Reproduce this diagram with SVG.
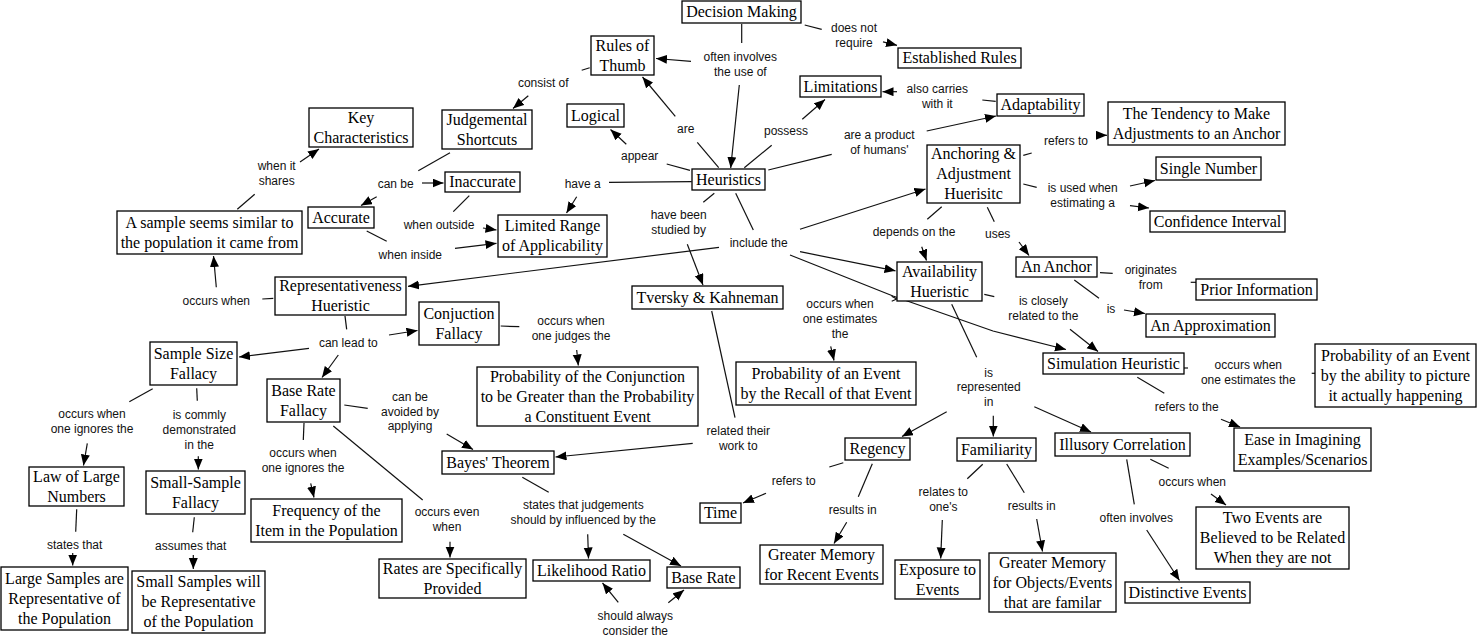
<svg xmlns="http://www.w3.org/2000/svg" width="1478" height="644" viewBox="0 0 1478 644">
<style>
.n rect{fill:#fff;stroke:#000;stroke-width:1.3}
.n text{font-family:"Liberation Serif","Times New Roman",serif;font-size:16px;fill:#000;text-anchor:middle}
.lb{font-family:"Liberation Sans",Arial,sans-serif;font-size:12px;fill:#111;text-anchor:middle}
.cn line,.cn polyline{stroke:#111;stroke-width:1.2;fill:none}
.cn .a{marker-end:url(#ah)}
</style>
<defs>
<marker id="ah" markerUnits="userSpaceOnUse" markerWidth="12" markerHeight="10" refX="11" refY="4.5" orient="auto"><path d="M0,0 L11,4.5 L0,9 z" fill="#000"/></marker>
</defs>
<rect width="1478" height="644" fill="#fff"/>
<g id="connectors" class="cn">
<line x1="741.7" y1="24" x2="741.7" y2="43"/>
<line x1="804.7" y1="25" x2="821.7" y2="29.3"/>
<line x1="581.7" y1="70.3" x2="589.7" y2="67.7"/>
<line x1="718.7" y1="167.7" x2="697.3" y2="142.3"/>
<line x1="744.3" y1="167.7" x2="771.7" y2="145.3"/>
<line x1="982.3" y1="100" x2="995.7" y2="101.3"/>
<line x1="768.3" y1="170" x2="831.7" y2="154.3"/>
<line x1="690" y1="170.3" x2="666.7" y2="164"/>
<line x1="691.7" y1="181.7" x2="609" y2="182.3"/>
<line x1="714.3" y1="193.3" x2="703.3" y2="202.3"/>
<line x1="735.7" y1="193.3" x2="753.3" y2="230"/>
<line x1="1023.3" y1="155.3" x2="1031.7" y2="153"/>
<line x1="1023.3" y1="184" x2="1036.7" y2="187.3"/>
<line x1="987.3" y1="207.3" x2="994.3" y2="221.7"/>
<line x1="941.7" y1="206.7" x2="927.3" y2="219.3"/>
<line x1="1100" y1="272.7" x2="1112.7" y2="273.3"/>
<line x1="1190.7" y1="282.3" x2="1196" y2="282.3"/>
<line x1="1074.3" y1="280" x2="1099" y2="298.3"/>
<line x1="984.3" y1="294.3" x2="994.3" y2="296.7"/>
<line x1="951.7" y1="304.3" x2="976.7" y2="357.3"/>
<line x1="1184" y1="368" x2="1188" y2="368"/>
<line x1="1311.7" y1="373.3" x2="1315" y2="373.3"/>
<line x1="1137.3" y1="377.3" x2="1164.3" y2="393.3"/>
<line x1="1150.3" y1="459.3" x2="1168.7" y2="468.3"/>
<line x1="1126.7" y1="459.3" x2="1134.3" y2="504.3"/>
<line x1="1006.7" y1="464" x2="1024.3" y2="492.7"/>
<line x1="982.7" y1="464.3" x2="967.3" y2="478.7"/>
<line x1="843.3" y1="462.7" x2="829.3" y2="467"/>
<line x1="872.3" y1="463.7" x2="858.3" y2="496.7"/>
<line x1="711.7" y1="311" x2="735" y2="417.7"/>
<line x1="262.3" y1="299" x2="273.3" y2="298.3"/>
<line x1="237.3" y1="209.3" x2="254.7" y2="194.3"/>
<line x1="450" y1="152.7" x2="418.3" y2="170.7"/>
<line x1="469.3" y1="195.7" x2="453.3" y2="211.7"/>
<line x1="366.7" y1="231" x2="386.7" y2="241.3"/>
<line x1="345" y1="316" x2="346.7" y2="329.3"/>
<line x1="500.7" y1="326" x2="519.3" y2="326.7"/>
<line x1="344.3" y1="405" x2="367.7" y2="408.3"/>
<line x1="304" y1="423" x2="303.3" y2="440"/>
<line x1="333.3" y1="426" x2="422.7" y2="500"/>
<line x1="152.7" y1="388.7" x2="129.3" y2="401.7"/>
<line x1="196.7" y1="388.3" x2="197.3" y2="400.7"/>
<line x1="76.7" y1="509.3" x2="75.7" y2="531.7"/>
<line x1="194.3" y1="517.3" x2="192.7" y2="532.3"/>
<line x1="522.3" y1="477.3" x2="548.7" y2="492.3"/>
<polyline points="891.7,296.2 896.7,299 891.7,301.2"/>
<line class="a" x1="691" y1="61.3" x2="656" y2="58.5"/>
<line class="a" x1="739.3" y1="85" x2="730.7" y2="168"/>
<line class="a" x1="883" y1="41.8" x2="897" y2="45.3"/>
<line class="a" x1="528.3" y1="95.7" x2="513" y2="108.5"/>
<line class="a" x1="675.3" y1="116.3" x2="642.5" y2="77"/>
<line class="a" x1="802.3" y1="119.3" x2="825" y2="99.5"/>
<line class="a" x1="897" y1="91.7" x2="882.5" y2="91.7"/>
<line class="a" x1="926.7" y1="131" x2="996" y2="116"/>
<line class="a" x1="626.3" y1="144.3" x2="610.5" y2="129.5"/>
<line class="a" x1="576.7" y1="196.7" x2="566.5" y2="213"/>
<line class="a" x1="687.3" y1="244.3" x2="703" y2="285"/>
<line class="a" x1="800" y1="229.3" x2="925.5" y2="189"/>
<line class="a" x1="719" y1="247.3" x2="408" y2="286.3"/>
<line class="a" x1="800" y1="251.7" x2="895.5" y2="270.8"/>
<polyline class="a" points="790,255 893,296 993,331 1066,349.5"/>
<line class="a" x1="1096" y1="135.3" x2="1107" y2="135.3"/>
<line class="a" x1="1130" y1="186" x2="1155" y2="180.5"/>
<line class="a" x1="1130" y1="205.7" x2="1149" y2="208"/>
<line class="a" x1="1019" y1="242" x2="1029" y2="255.5"/>
<line class="a" x1="921.7" y1="246.7" x2="926.5" y2="260.5"/>
<line class="a" x1="1124" y1="310" x2="1145" y2="313.5"/>
<line class="a" x1="1070" y1="329.3" x2="1098" y2="351.5"/>
<line class="a" x1="946.7" y1="411.7" x2="902" y2="436.5"/>
<line class="a" x1="993.3" y1="415.7" x2="993.3" y2="436.5"/>
<line class="a" x1="1034.3" y1="406.7" x2="1091" y2="432"/>
<line class="a" x1="1221" y1="419.3" x2="1240" y2="427"/>
<line class="a" x1="1211" y1="494" x2="1226" y2="505"/>
<line class="a" x1="1146.7" y1="530" x2="1179.5" y2="580.5"/>
<line class="a" x1="1036.7" y1="519" x2="1042.5" y2="551.5"/>
<line class="a" x1="942.3" y1="520" x2="940.7" y2="558.5"/>
<line class="a" x1="766" y1="493.3" x2="743" y2="503"/>
<line class="a" x1="846.7" y1="522.3" x2="834" y2="543.5"/>
<line class="a" x1="830.7" y1="346.3" x2="834" y2="360.5"/>
<line class="a" x1="692.7" y1="443.3" x2="555.5" y2="457"/>
<line class="a" x1="216.3" y1="287.3" x2="213.5" y2="256"/>
<line class="a" x1="300" y1="162" x2="319" y2="149"/>
<line class="a" x1="422" y1="183" x2="443.5" y2="183"/>
<line class="a" x1="376.7" y1="196.7" x2="361" y2="205.5"/>
<line class="a" x1="483" y1="228" x2="496.5" y2="230"/>
<line class="a" x1="455" y1="248.3" x2="496.5" y2="243.3"/>
<line class="a" x1="389" y1="335" x2="417.5" y2="330.5"/>
<line class="a" x1="309" y1="348.3" x2="239" y2="357"/>
<line class="a" x1="338.3" y1="355" x2="322" y2="377.5"/>
<line class="a" x1="576.7" y1="350" x2="578.3" y2="365.5"/>
<line class="a" x1="446.7" y1="434" x2="473" y2="449.5"/>
<line class="a" x1="310.7" y1="483.3" x2="314" y2="497.5"/>
<line class="a" x1="450" y1="541.7" x2="450" y2="557.5"/>
<line class="a" x1="87.3" y1="443.3" x2="83.5" y2="465.5"/>
<line class="a" x1="198.3" y1="456.3" x2="198.3" y2="469.5"/>
<line class="a" x1="72.7" y1="553" x2="72.7" y2="565.5"/>
<line class="a" x1="193.3" y1="555" x2="193.3" y2="569"/>
<line class="a" x1="587.7" y1="534.3" x2="588.5" y2="558.5"/>
<line class="a" x1="623.3" y1="534.3" x2="681" y2="566"/>
<line class="a" x1="618.3" y1="602.3" x2="602.5" y2="583"/>
<line class="a" x1="668.3" y1="602.7" x2="684" y2="590"/>
</g>
<g id="labels">
<text class="lb" x="854" y="32">does not</text><text class="lb" x="854" y="47">require</text>
<text class="lb" x="740.3" y="61">often involves</text><text class="lb" x="740.3" y="76">the use of</text>
<text class="lb" x="543.3" y="87">consist of</text>
<text class="lb" x="937.3" y="93">also carries</text><text class="lb" x="937.3" y="108">with it</text>
<text class="lb" x="685.7" y="133">are</text>
<text class="lb" x="786" y="135">possess</text>
<text class="lb" x="879.3" y="139">are a product</text><text class="lb" x="879.3" y="154">of humans'</text>
<text class="lb" x="639.7" y="160">appear</text>
<text class="lb" x="582.7" y="187.5">have a</text>
<text class="lb" x="678.7" y="219">have been</text><text class="lb" x="678.7" y="234">studied by</text>
<text class="lb" x="758.7" y="246.5">include the</text>
<text class="lb" x="914" y="236">depends on the</text>
<text class="lb" x="840" y="308">occurs when</text><text class="lb" x="840" y="323">one estimates</text><text class="lb" x="840" y="338">the</text>
<text class="lb" x="276.7" y="170">when it</text><text class="lb" x="276.7" y="185">shares</text>
<text class="lb" x="395.7" y="188">can be</text>
<text class="lb" x="439" y="228.5">when outside</text>
<text class="lb" x="410.3" y="259">when inside</text>
<text class="lb" x="216.3" y="305">occurs when</text>
<text class="lb" x="1066" y="145">refers to</text>
<text class="lb" x="1082.7" y="192">is used when</text><text class="lb" x="1082.7" y="207">estimating a</text>
<text class="lb" x="997.7" y="237.5">uses</text>
<text class="lb" x="1150.7" y="273.5">originates</text><text class="lb" x="1150.7" y="288.5">from</text>
<text class="lb" x="1043.3" y="305">is closely</text><text class="lb" x="1043.3" y="320">related to the</text>
<text class="lb" x="1111" y="313">is</text>
<text class="lb" x="988.7" y="376.5">is</text><text class="lb" x="988.7" y="391">represented</text><text class="lb" x="988.7" y="405.5">in</text>
<text class="lb" x="1248.3" y="369">occurs when</text><text class="lb" x="1248.3" y="384">one estimates the</text>
<text class="lb" x="1186.7" y="411">refers to the</text>
<text class="lb" x="1192.3" y="486">occurs when</text>
<text class="lb" x="1031.7" y="510">results in</text>
<text class="lb" x="1136.3" y="522">often involves</text>
<text class="lb" x="571" y="325">occurs when</text><text class="lb" x="571" y="340">one judges the</text>
<text class="lb" x="738.3" y="435">related their</text><text class="lb" x="738.3" y="450">work to</text>
<text class="lb" x="793.7" y="485">refers to</text>
<text class="lb" x="852.7" y="514">results in</text>
<text class="lb" x="943.3" y="496">relates to</text><text class="lb" x="943.3" y="511">one's</text>
<text class="lb" x="583.3" y="509">states that judgements</text><text class="lb" x="583.3" y="524">should by influenced by the</text>
<text class="lb" x="635.3" y="620">should always</text><text class="lb" x="635.3" y="635">consider the</text>
<text class="lb" x="348.3" y="346.5">can lead to</text>
<text class="lb" x="410" y="401">can be</text><text class="lb" x="410" y="415.5">avoided by</text><text class="lb" x="410" y="430">applying</text>
<text class="lb" x="303" y="457">occurs when</text><text class="lb" x="303" y="472">one ignores the</text>
<text class="lb" x="92" y="418">occurs when</text><text class="lb" x="92" y="433">one ignores the</text>
<text class="lb" x="199.3" y="419">is commly</text><text class="lb" x="199.3" y="434">demonstrated</text><text class="lb" x="199.3" y="449">in the</text>
<text class="lb" x="74.7" y="549">states that</text>
<text class="lb" x="190.7" y="550">assumes that</text>
<text class="lb" x="447" y="516">occurs even</text><text class="lb" x="447" y="531">when</text>
</g>
<g id="n_decision" class="n"><rect x="682" y="1" width="119" height="22"/><text x="741.5" y="17">Decision Making</text></g>
<g id="n_rules" class="n"><rect x="591" y="36" width="63" height="39"/><text x="622.5" y="50.5">Rules of</text><text x="622.5" y="70.5">Thumb</text></g>
<g id="n_established" class="n"><rect x="898" y="48" width="123" height="20"/><text x="959.5" y="63">Established Rules</text></g>
<g id="n_limitations" class="n"><rect x="800" y="76" width="81" height="21"/><text x="840.5" y="91.5">Limitations</text></g>
<g id="n_adaptability" class="n"><rect x="997" y="94" width="87" height="22"/><text x="1040.5" y="110">Adaptability</text></g>
<g id="n_logical" class="n"><rect x="567" y="104" width="57" height="23"/><text x="595.5" y="120.5">Logical</text></g>
<g id="n_judgemental" class="n"><rect x="442" y="110" width="90" height="39"/><text x="487" y="124.5">Judgemental</text><text x="487" y="144.5">Shortcuts</text></g>
<g id="n_key" class="n"><rect x="309" y="108" width="104" height="39"/><text x="361" y="122.5">Key</text><text x="361" y="142.5">Characteristics</text></g>
<g id="n_heuristics" class="n"><rect x="692" y="169" width="73" height="21"/><text x="728.5" y="184.5">Heuristics</text></g>
<g id="n_inaccurate" class="n"><rect x="445" y="172" width="75" height="20"/><text x="482.5" y="187">Inaccurate</text></g>
<g id="n_accurate" class="n"><rect x="308" y="207" width="66" height="21"/><text x="341" y="222.5">Accurate</text></g>
<g id="n_sample" class="n"><rect x="117" y="211" width="185" height="43"/><text x="209.5" y="227.5">A sample seems similar to</text><text x="209.5" y="247.5">the population it came from</text></g>
<g id="n_limited" class="n"><rect x="498" y="215" width="109" height="42"/><text x="552.5" y="231">Limited Range</text><text x="552.5" y="251">of Applicability</text></g>
<g id="n_anchoring" class="n"><rect x="927" y="145" width="93" height="58"/><text x="973.5" y="159">Anchoring &amp;</text><text x="973.5" y="179">Adjustment</text><text x="973.5" y="199">Huerisitc</text></g>
<g id="n_tendency" class="n"><rect x="1108" y="102" width="177" height="43"/><text x="1196.5" y="118.5">The Tendency to Make</text><text x="1196.5" y="138.5">Adjustments to an Anchor</text></g>
<g id="n_single" class="n"><rect x="1156" y="157" width="105" height="23"/><text x="1208.5" y="173.5">Single Number</text></g>
<g id="n_confidence" class="n"><rect x="1150" y="211" width="135" height="21"/><text x="1217.5" y="226.5">Confidence Interval</text></g>
<g id="n_anchor" class="n"><rect x="1016" y="257" width="81" height="20"/><text x="1056.5" y="272">An Anchor</text></g>
<g id="n_prior" class="n"><rect x="1196" y="279" width="121" height="21"/><text x="1256.5" y="294.5">Prior Information</text></g>
<g id="n_approximation" class="n"><rect x="1146" y="314" width="129" height="23"/><text x="1210.5" y="330.5">An Approximation</text></g>
<g id="n_availability" class="n"><rect x="897" y="262" width="85" height="39"/><text x="939.5" y="276.5">Availability</text><text x="939.5" y="296.5">Hueristic</text></g>
<g id="n_simulation" class="n"><rect x="1043" y="353" width="141" height="21"/><text x="1113.5" y="368.5">Simulation Heuristic</text></g>
<g id="n_prob_ability" class="n"><rect x="1315" y="344" width="161" height="63"/><text x="1395.5" y="360.5">Probability of an Event</text><text x="1395.5" y="380.5">by the ability to picture</text><text x="1395.5" y="400.5">it actually happening</text></g>
<g id="n_ease" class="n"><rect x="1234" y="428" width="137" height="43"/><text x="1302.5" y="444.5">Ease in Imagining</text><text x="1302.5" y="464.5">Examples/Scenarios</text></g>
<g id="n_illusory" class="n"><rect x="1055" y="433" width="135" height="23"/><text x="1122.5" y="449.5">Illusory Correlation</text></g>
<g id="n_two_events" class="n"><rect x="1196" y="507" width="153" height="62"/><text x="1272.5" y="523">Two Events are</text><text x="1272.5" y="543">Believed to be Related</text><text x="1272.5" y="563">When they are not</text></g>
<g id="n_distinctive" class="n"><rect x="1125" y="582" width="125" height="21"/><text x="1187.5" y="597.5">Distinctive Events</text></g>
<g id="n_memory_objects" class="n"><rect x="989" y="553" width="127" height="59"/><text x="1052.5" y="567.5">Greater Memory</text><text x="1052.5" y="587.5">for Objects/Events</text><text x="1052.5" y="607.5">that are familar</text></g>
<g id="n_familiarity" class="n"><rect x="957" y="438" width="79" height="23"/><text x="996.5" y="454.5">Familiarity</text></g>
<g id="n_exposure" class="n"><rect x="895" y="560" width="85" height="39"/><text x="937.5" y="574.5">Exposure to</text><text x="937.5" y="594.5">Events</text></g>
<g id="n_regency" class="n"><rect x="845" y="438" width="65" height="22"/><text x="877.5" y="454">Regency</text></g>
<g id="n_memory_recent" class="n"><rect x="760" y="545" width="123" height="39"/><text x="821.5" y="559.5">Greater Memory</text><text x="821.5" y="579.5">for Recent Events</text></g>
<g id="n_time" class="n"><rect x="700" y="503" width="41" height="20"/><text x="720.5" y="518">Time</text></g>
<g id="n_prob_recall" class="n"><rect x="736" y="362" width="180" height="43"/><text x="826" y="378.5">Probability of an Event</text><text x="826" y="398.5">by the Recall of that Event</text></g>
<g id="n_tversky" class="n"><rect x="632" y="286" width="151" height="23"/><text x="707.5" y="302.5">Tversky &amp; Kahneman</text></g>
<g id="n_prob_conjunction" class="n"><rect x="477" y="367" width="221" height="59"/><text x="587.5" y="381.5">Probability of the Conjunction</text><text x="587.5" y="401.5">to be Greater than the Probability</text><text x="587.5" y="421.5">a Constituent Event</text></g>
<g id="n_conjuction" class="n"><rect x="419" y="302" width="80" height="43"/><text x="459" y="318.5">Conjuction</text><text x="459" y="338.5">Fallacy</text></g>
<g id="n_representativeness" class="n"><rect x="275" y="277" width="131" height="38"/><text x="340.5" y="291">Representativeness</text><text x="340.5" y="311">Hueristic</text></g>
<g id="n_bayes" class="n"><rect x="442" y="451" width="112" height="23"/><text x="498" y="467.5">Bayes' Theorem</text></g>
<g id="n_base_rate_fallacy" class="n"><rect x="267" y="379" width="73" height="43"/><text x="303.5" y="395.5">Base Rate</text><text x="303.5" y="415.5">Fallacy</text></g>
<g id="n_sample_size" class="n"><rect x="150" y="342" width="87" height="43"/><text x="193.5" y="358.5">Sample Size</text><text x="193.5" y="378.5">Fallacy</text></g>
<g id="n_law" class="n"><rect x="29" y="467" width="95" height="39"/><text x="76.5" y="481.5">Law of Large</text><text x="76.5" y="501.5">Numbers</text></g>
<g id="n_small_sample" class="n"><rect x="146" y="471" width="99" height="43"/><text x="195.5" y="487.5">Small-Sample</text><text x="195.5" y="507.5">Fallacy</text></g>
<g id="n_large_samples" class="n"><rect x="1" y="567" width="127" height="63"/><text x="64.5" y="583.5">Large Samples are</text><text x="64.5" y="603.5">Representative of</text><text x="64.5" y="623.5">the Population</text></g>
<g id="n_small_samples" class="n"><rect x="132" y="571" width="133" height="62"/><text x="198.5" y="587">Small Samples will</text><text x="198.5" y="607">be Representative</text><text x="198.5" y="627">of the Population</text></g>
<g id="n_frequency" class="n"><rect x="251" y="499" width="151" height="43"/><text x="326.5" y="515.5">Frequency of the</text><text x="326.5" y="535.5">Item in the Population</text></g>
<g id="n_rates" class="n"><rect x="379" y="559" width="147" height="39"/><text x="452.5" y="573.5">Rates are Specifically</text><text x="452.5" y="593.5">Provided</text></g>
<g id="n_likelihood" class="n"><rect x="533" y="560" width="117" height="21"/><text x="591.5" y="575.5">Likelihood Ratio</text></g>
<g id="n_base_rate" class="n"><rect x="667" y="567" width="73" height="21"/><text x="703.5" y="582.5">Base Rate</text></g>
</svg>
